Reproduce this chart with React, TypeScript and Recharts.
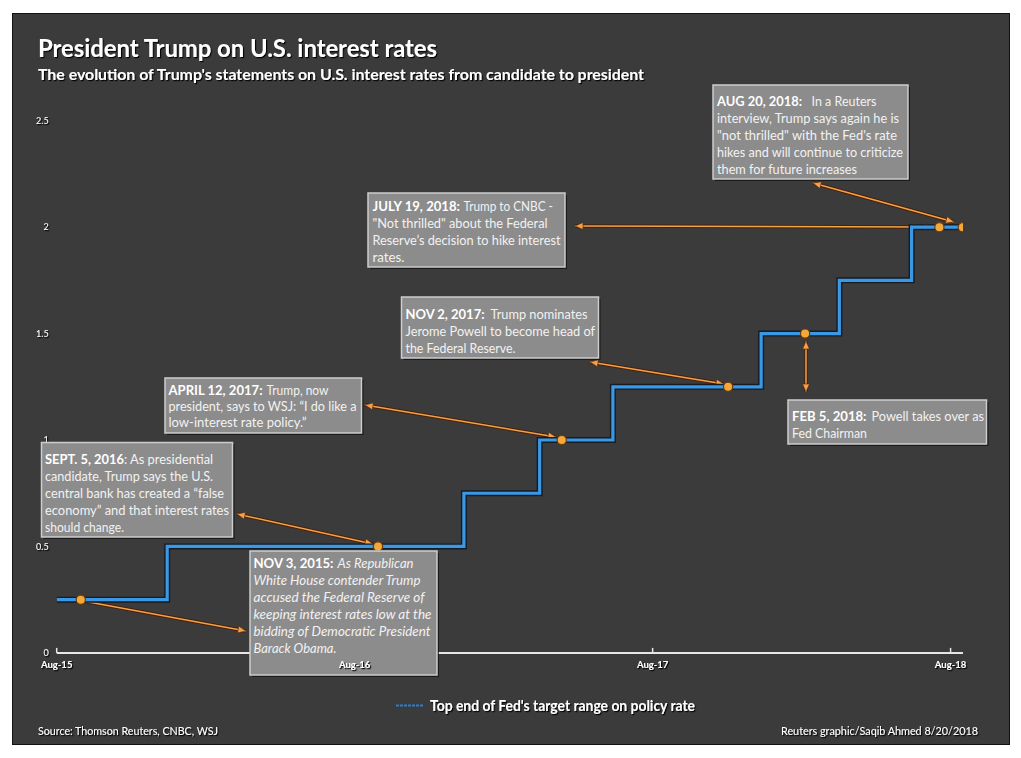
import React from 'react';
import { ComposedChart, Line, Scatter, XAxis, YAxis } from 'recharts';

// ---- data (x = months since Aug 2015) ----
const rateMonths = [0, 4.45, 16.4, 19.45, 22.4, 28.37, 31.52, 34.43, 36.5];
const rateValues = [0.25, 0.5, 0.75, 1, 1.25, 1.5, 1.75, 2, 2];
const eventDates = ['NOV 3, 2015', 'SEPT. 5, 2016', 'APRIL 12, 2017', 'NOV 2, 2017', 'FEB 5, 2018', 'JULY 19, 2018', 'AUG 20, 2018'];
const eventMonths = [0.97, 12.94, 20.34, 27.04, 30.14, 35.55, 36.49];
const eventValues = [0.25, 0.5, 1, 1.25, 1.5, 2, 2];
const xTickMonths = [0, 12, 24, 36];
const xTickLabels = ['Aug-15', 'Aug-16', 'Aug-17', 'Aug-18'];
const yTicks = [0, 0.5, 1, 1.5, 2, 2.5];
const seriesName = "Top end of Fed's target range on policy rate";

const rateData = rateMonths.map((m, i) => ({ m, rate: rateValues[i] }));
const eventData = eventMonths.map((m, i) => ({ m, v: eventValues[i], label: eventDates[i] }));

const W = 1021;
const H = 758;
const FONT = 'Lato, "Open Sans", sans-serif';
const chartMargin = { top: 120.7, right: 58, bottom: 85.1, left: 36.7 };

type Part = { x: number; w: number; t: string; b?: boolean; i?: boolean };
type TLine = { y: number; parts: Part[]; sx?: number };
type Ann = { x: number; y: number; w: number; h: number; lines: TLine[] };

const annotations: Ann[] = [
  {
    x: 713, y: 85, w: 195, h: 94,
    lines: [
      { y: 106, parts: [{ x: 717, w: 85, t: eventDates[6] + ':', b: true }, { x: 811.5, w: 65, t: 'In a Reuters' }] },
      { y: 123, parts: [{ x: 717, w: 182, t: 'interview, Trump says again he is' }] },
      { y: 140, parts: [{ x: 717, w: 180, t: '"not thrilled" with the Fed\'s rate' }] },
      { y: 157, parts: [{ x: 717, w: 186, t: 'hikes and will continue to criticize' }] },
      { y: 174, parts: [{ x: 717, w: 140, t: 'them for future increases' }] },
    ],
  },
  {
    x: 368, y: 193, w: 197, h: 74,
    lines: [
      { y: 211, parts: [{ x: 372.5, w: 87.5, t: eventDates[5] + ':', b: true }, { x: 463.5, w: 89.5, t: 'Trump to CNBC -' }] },
      { y: 228, parts: [{ x: 372.5, w: 175, t: '"Not thrilled" about the Federal' }] },
      { y: 245, parts: [{ x: 372.5, w: 188, t: 'Reserve\u2019s decision to hike interest' }] },
      { y: 262, parts: [{ x: 372.5, w: 32, t: 'rates.' }] },
    ],
  },
  {
    x: 401.5, y: 297, w: 197, h: 61,
    lines: [
      { y: 319, parts: [{ x: 405.5, w: 79, t: eventDates[3] + ':', b: true }, { x: 490.5, w: 97, t: 'Trump nominates' }] },
      { y: 336, parts: [{ x: 405.5, w: 189.5, t: 'Jerome Powell to become head of' }] },
      { y: 353, parts: [{ x: 405.5, w: 110, t: 'the Federal Reserve.' }] },
    ],
  },
  {
    x: 788, y: 400, w: 198.5, h: 44,
    lines: [
      { y: 421, parts: [{ x: 792, w: 74.5, t: eventDates[4] + ':', b: true }, { x: 871.5, w: 112.5, t: 'Powell takes over as' }] },
      { y: 438, parts: [{ x: 792, w: 75, t: 'Fed Chairman' }] },
    ],
  },
  {
    x: 165, y: 378, w: 196.5, h: 55,
    lines: [
      { y: 395, parts: [{ x: 168.5, w: 94, t: eventDates[2] + ':', b: true }, { x: 266.5, w: 62, t: 'Trump, now' }] },
      { y: 411, parts: [{ x: 168.5, w: 188, t: 'president, says to WSJ: \u201cI do like a' }] },
      { y: 427, parts: [{ x: 168.5, w: 138, t: 'low-interest rate policy.\u201d' }] },
    ],
  },
  {
    x: 41.5, y: 442.5, w: 191, h: 94.5,
    lines: [
      { y: 464, sx: 0.92, parts: [{ x: 45, w: 71, t: eventDates[1], b: true }, { x: 118, w: 96, t: ': As presidential' }] },
      { y: 481, parts: [{ x: 45, w: 168, t: 'candidate, Trump says the U.S.' }] },
      { y: 498, parts: [{ x: 45, w: 179, t: 'central bank has created a \u201cfalse' }] },
      { y: 515, parts: [{ x: 45, w: 184, t: 'economy\u201d and that interest rates' }] },
      { y: 532, parts: [{ x: 45, w: 79, t: 'should change.' }] },
    ],
  },
  {
    x: 250, y: 551, w: 187, h: 124,
    lines: [
      { y: 568, parts: [{ x: 253.5, w: 80, t: eventDates[0] + ':', b: true }, { x: 337.5, w: 76, t: 'As Republican', i: true }] },
      { y: 585, parts: [{ x: 253.5, w: 167, t: 'White House contender Trump', i: true }] },
      { y: 602, parts: [{ x: 253.5, w: 171, t: 'accused the Federal Reserve of', i: true }] },
      { y: 619, parts: [{ x: 253.5, w: 178, t: 'keeping interest rates low at the', i: true }] },
      { y: 636, parts: [{ x: 253.5, w: 177, t: 'bidding of Democratic President', i: true }] },
      { y: 653, parts: [{ x: 253.5, w: 83, t: 'Barack Obama.', i: true }] },
    ],
  },
];

// arrows: [x1, y1, x2, y2, headAtStart, headAtEnd]
const arrows: [number, number, number, number, boolean, boolean][] = [
  [83, 601, 246, 631, false, true],
  [373, 544, 237, 514, true, true],
  [556, 437, 365, 405, true, true],
  [724, 384, 590, 362, true, true],
  [806, 341, 806, 392, true, true],
  [933, 227, 575, 226, true, true],
  [954, 222, 813, 183, true, true],
];

function headPts(tx: number, ty: number, fx: number, fy: number) {
  const dx = tx - fx;
  const dy = ty - fy;
  const L = Math.hypot(dx, dy) || 1;
  const ux = dx / L;
  const uy = dy / L;
  const bx = tx - ux * 8;
  const by = ty - uy * 8;
  const px = -uy * 3.5;
  const py = ux * 3.5;
  return `${tx},${ty} ${bx + px},${by + py} ${bx - px},${by - py}`;
}

function Arrow({ a }: { a: [number, number, number, number, boolean, boolean] }) {
  const [x1, y1, x2, y2, hs, he] = a;
  return (
    <g>
      <line x1={x1} y1={y1} x2={x2} y2={y2} stroke="#4a1f08" strokeWidth={3.4} />
      <line x1={x1} y1={y1} x2={x2} y2={y2} stroke="#f2a24a" strokeWidth={1.5} />
      {hs && <polygon points={headPts(x1, y1, x2, y2)} fill="#f2a24a" stroke="#4a1f08" strokeWidth={0.6} />}
      {he && <polygon points={headPts(x2, y2, x1, y1)} fill="#f2a24a" stroke="#4a1f08" strokeWidth={0.6} />}
    </g>
  );
}

function XTickMark(props: any) {
  const { x, y } = props;
  return <line x1={x} x2={x} y1={y} y2={y - 5} stroke="#e6e6e6" strokeWidth={1.5} />;
}

function XTickLabel(props: any) {
  const { x, y, payload } = props;
  const i = xTickMonths.indexOf(payload.value);
  return (
    <text x={x} y={y + 15} textAnchor="middle" fill="#ffffff" fontSize={9.5} fontWeight={700} fontFamily={FONT} filter="url(#ts)">
      {xTickLabels[i]}
    </text>
  );
}

function EventDot(props: any) {
  const { cx, cy } = props;
  return <circle cx={cx} cy={cy} r={4.6} fill="#f5a83a" stroke="#6b3a0c" strokeWidth={1.2} />;
}

function Chart({ labelsOnly }: { labelsOnly: boolean }) {
  return (
    <ComposedChart width={W} height={H} margin={chartMargin} style={{ fontFamily: FONT }}>
      <XAxis
        dataKey="m"
        type="number"
        domain={[0, 36.5]}
        ticks={xTickMonths}
        interval={0}
        height={20}
        allowDataOverflow
        tickSize={0}
        tickMargin={0}
        axisLine={labelsOnly ? false : { stroke: '#e6e6e6', strokeWidth: 2 }}
        tickLine={false}
        tick={labelsOnly ? <XTickLabel /> : <XTickMark />}
      />
      <YAxis
        domain={[0, 2.5]}
        ticks={yTicks}
        interval={0}
        width={20}
        axisLine={false}
        tickLine={false}
        tick={labelsOnly ? false : { fill: '#ffffff', fontSize: 9, fontFamily: FONT, filter: 'url(#ts)' }}
      />
      {labelsOnly ? (
        <Line data={rateData} dataKey="rate" type="stepAfter" stroke="none" dot={false} isAnimationActive={false} />
      ) : null}
      {!labelsOnly ? (
        <Line data={rateData} dataKey="rate" type="stepAfter" stroke="#141c26" strokeWidth={6} dot={false} isAnimationActive={false} legendType="none" />
      ) : null}
      {!labelsOnly ? (
        <Line data={rateData} dataKey="rate" name={seriesName} type="stepAfter" stroke="#3a98e4" strokeWidth={3.2} dot={false} isAnimationActive={false} />
      ) : null}
      {!labelsOnly ? <Scatter data={eventData} dataKey="v" shape={<EventDot />} isAnimationActive={false} /> : null}
    </ComposedChart>
  );
}

function Box({ a }: { a: Ann }) {
  return (
    <g>
      <rect x={a.x + 2} y={a.y + 2} width={a.w} height={a.h} fill="#111" opacity={0.75} />
      <rect x={a.x} y={a.y} width={a.w} height={a.h} fill="#8c8c8c" stroke="#cdcdcd" strokeWidth={1.5} />
      {a.lines.map((ln, k) => {
        if (ln.sx) {
          return (
            <text
              key={k}
              x={0}
              y={0}
              transform={`translate(${ln.parts[0].x},${ln.y}) scale(${ln.sx},1)`}
              fontSize={14}
              fontFamily={FONT}
              fill="#f2f2f2"
            >
              {ln.parts.map((p, j) => (
                <tspan key={j} fontWeight={p.b ? 700 : 400} fontStyle={p.i ? 'italic' : 'normal'} fill={p.b ? '#ffffff' : '#f2f2f2'}>
                  {p.t}
                </tspan>
              ))}
            </text>
          );
        }
        return ln.parts.map((p, j) => (
          <text
            key={k + '-' + j}
            x={p.x}
            y={ln.y}
            fontSize={14}
            fontFamily={FONT}
            fontWeight={p.b ? 700 : 400}
            fontStyle={p.i ? 'italic' : 'normal'}
            fill={p.b ? '#ffffff' : '#f2f2f2'}
            textLength={p.w}
            lengthAdjust="spacingAndGlyphs"
          >
            {p.t}
          </text>
        ));
      })}
    </g>
  );
}

export default function App() {
  return (
    <div style={{ position: 'absolute', left: 0, top: 0, width: W, height: H, background: '#ffffff', overflow: 'hidden' }}>
      <div
        style={{
          position: 'absolute',
          left: 12,
          top: 13,
          width: 996,
          height: 730,
          background: '#3b3b3b',
          border: '1px solid #121212',
        }}
      />
      {/* arrows below the series */}
      <svg width={W} height={H} style={{ position: 'absolute', left: 0, top: 0 }}>
        <defs>
          <filter id="ts" x="-10%" y="-30%" width="130%" height="180%">
            <feDropShadow dx="1.2" dy="1.2" stdDeviation="0.7" floodColor="#000" floodOpacity="0.95" />
          </filter>
        </defs>
        {arrows.map((a, i) => (
          <Arrow key={i} a={a} />
        ))}
      </svg>
      <div style={{ position: 'absolute', left: 0, top: 0 }}>
        <Chart labelsOnly={false} />
      </div>
      {/* annotation boxes and texts */}
      <svg width={W} height={H} style={{ position: 'absolute', left: 0, top: 0, pointerEvents: 'none' }}>
        <text x={38} y={57} fontFamily={FONT} fontWeight={700} fontSize={25} fill="#ffffff" textLength={399} lengthAdjust="spacingAndGlyphs" filter="url(#ts)">
          President Trump on U.S. interest rates
        </text>
        <text x={38} y={80} fontFamily={FONT} fontWeight={700} fontSize={15} fill="#ffffff" textLength={606} lengthAdjust="spacingAndGlyphs" filter="url(#ts)">
          The evolution of Trump's statements on U.S. interest rates from candidate to president
        </text>
        {annotations.map((a, i) => (
          <Box key={i} a={a} />
        ))}
        <line x1={396} x2={424} y1={705.5} y2={705.5} stroke="#2f7fc8" strokeWidth={2} strokeDasharray="3 1" />
        <text x={430} y={711} fontFamily={FONT} fontWeight={700} fontSize={15} fill="#ffffff" textLength={265} lengthAdjust="spacingAndGlyphs" filter="url(#ts)">
          {seriesName}
        </text>
        <text x={38} y={735} fontFamily={FONT} fontSize={11} fill="#ffffff" textLength={180} lengthAdjust="spacingAndGlyphs" filter="url(#ts)">
          Source: Thomson Reuters, CNBC, WSJ
        </text>
        <text x={781} y={735} fontFamily={FONT} fontSize={11} fill="#ffffff" textLength={197} lengthAdjust="spacingAndGlyphs" filter="url(#ts)">
          Reuters graphic/Saqib Ahmed 8/20/2018
        </text>
      </svg>
      <div style={{ position: 'absolute', left: 0, top: 0, pointerEvents: 'none' }}>
        <Chart labelsOnly={true} />
      </div>
    </div>
  );
}
